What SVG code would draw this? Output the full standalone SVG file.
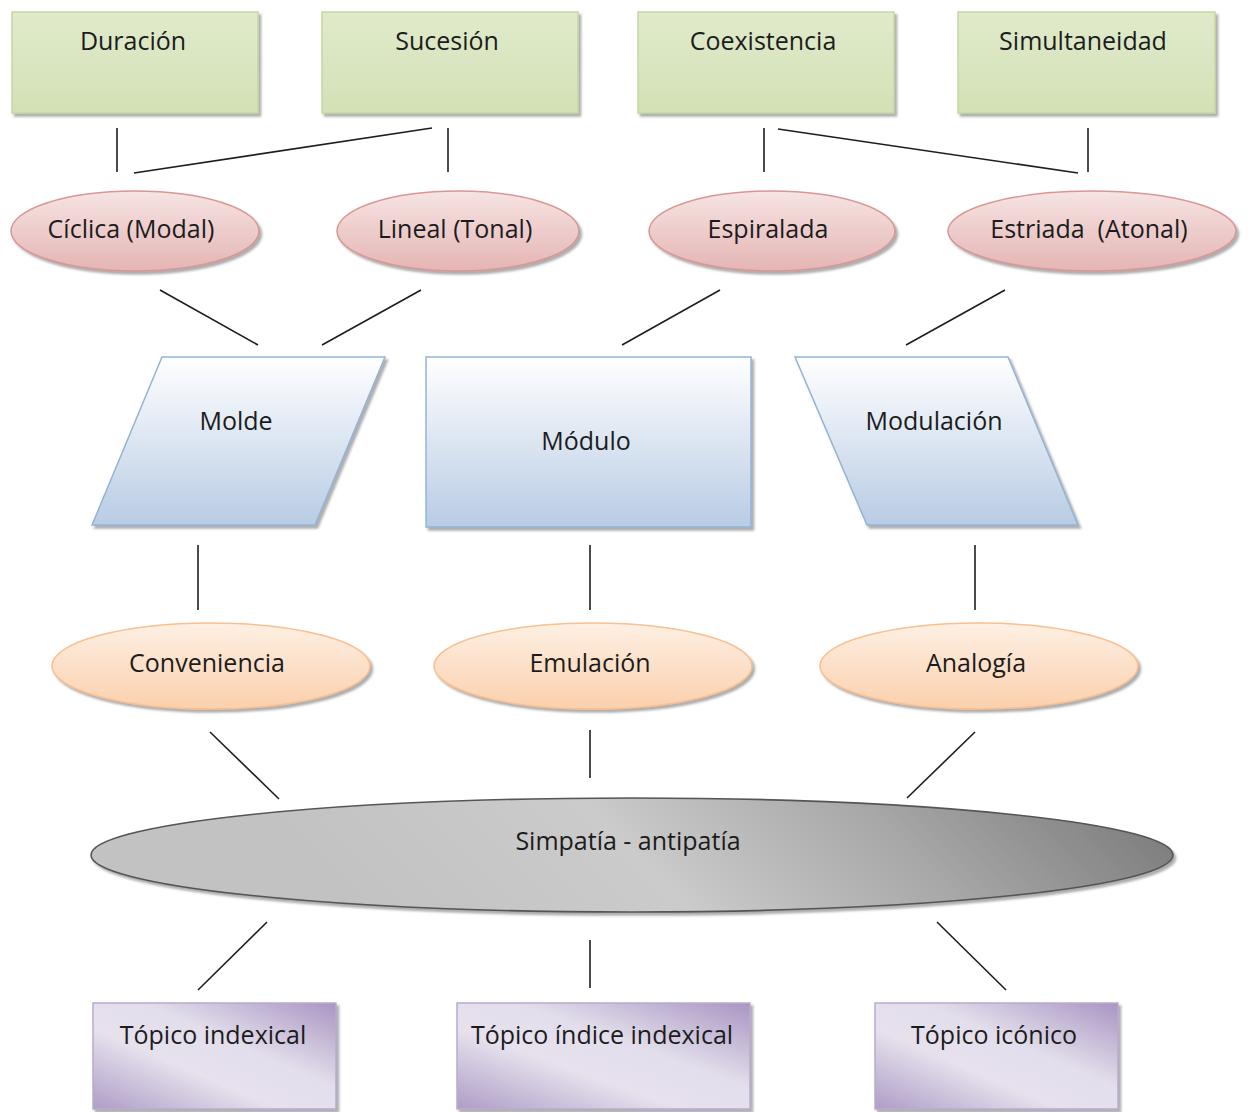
<svg xmlns="http://www.w3.org/2000/svg" width="1248" height="1112" viewBox="0 0 1248 1112">
  <defs>
    <linearGradient id="gGreen" x1="0" y1="0" x2="0" y2="1">
      <stop offset="0" stop-color="#e0eacb"/>
      <stop offset="1" stop-color="#d3e1b6"/>
    </linearGradient>
    <linearGradient id="gRed" x1="0" y1="0" x2="0" y2="1">
      <stop offset="0" stop-color="#f6e4e3"/>
      <stop offset="1" stop-color="#e4b5b4"/>
    </linearGradient>
    <linearGradient id="gBlue" x1="0" y1="0" x2="0" y2="1">
      <stop offset="0" stop-color="#ffffff"/>
      <stop offset="1" stop-color="#b8cce4"/>
    </linearGradient>
    <linearGradient id="gOrange" x1="0" y1="0" x2="0" y2="1">
      <stop offset="0" stop-color="#fef0e4"/>
      <stop offset="1" stop-color="#fbd0ad"/>
    </linearGradient>
    <!-- diagonal shading for the wide central ellipse -->
    <linearGradient id="gGray" gradientUnits="userSpaceOnUse" x1="1250" y1="700" x2="700" y2="1250">
      <stop offset="0.2" stop-color="#7e7e7e"/>
      <stop offset="0.45" stop-color="#a8a8a8"/>
      <stop offset="0.7" stop-color="#cbcbcb"/>
      <stop offset="1" stop-color="#c2c2c2"/>
    </linearGradient>
    <linearGradient id="gPurple" x1="1" y1="0" x2="0" y2="1">
      <stop offset="0" stop-color="#a995c2"/>
      <stop offset="0.4" stop-color="#e3deeb"/>
      <stop offset="0.62" stop-color="#e6e1ed"/>
      <stop offset="1" stop-color="#ae9dc5"/>
    </linearGradient>
    <filter id="shadow" x="-5%" y="-10%" width="115%" height="130%">
      <feDropShadow dx="2.5" dy="3" stdDeviation="1.2" flood-color="#6d6d6d" flood-opacity="0.55"/>
    </filter>
  </defs>
  <style>
    .lbl { font-family: "Open Sans", "Liberation Sans", sans-serif; font-size: 25px; fill: #1c1c1c; text-anchor: middle; }
    .green { fill: url(#gGreen); stroke: #c4d79f; stroke-width: 1.5; filter: url(#shadow); }
    .red { fill: url(#gRed); stroke: #d99694; stroke-width: 1.5; filter: url(#shadow); }
    .blue { fill: url(#gBlue); stroke: #95b3d7; stroke-width: 1.5; filter: url(#shadow); }
    .orange { fill: url(#gOrange); stroke: #f9bf8f; stroke-width: 1.5; filter: url(#shadow); }
    .gray { fill: url(#gGray); stroke: #555555; stroke-width: 1.6; filter: url(#shadow); }
    .purple { fill: url(#gPurple); stroke: #b9abcf; stroke-width: 1.5; filter: url(#shadow); }
    .conn line { stroke: #1e1e1e; stroke-width: 1.6; }
  </style>

  <rect width="1248" height="1112" fill="#ffffff"/>

  <!-- connectors -->
  <g id="connectors" class="conn">
    <line x1="117" y1="128" x2="117" y2="172"/>
    <line x1="134" y1="173" x2="432" y2="128"/>
    <line x1="448" y1="128" x2="448" y2="172"/>
    <line x1="764" y1="128" x2="764" y2="172"/>
    <line x1="778" y1="129" x2="1078" y2="173"/>
    <line x1="1088" y1="128" x2="1088" y2="172"/>
    <line x1="160" y1="290" x2="258" y2="345"/>
    <line x1="421" y1="290" x2="322" y2="345"/>
    <line x1="720" y1="290" x2="622" y2="345"/>
    <line x1="1005" y1="290" x2="906" y2="345"/>
    <line x1="198" y1="545" x2="198" y2="610"/>
    <line x1="590" y1="545" x2="590" y2="610"/>
    <line x1="975" y1="545" x2="975" y2="610"/>
    <line x1="210" y1="732" x2="279" y2="799"/>
    <line x1="590" y1="730" x2="590" y2="778"/>
    <line x1="975" y1="732" x2="907" y2="798"/>
    <line x1="267" y1="922" x2="198" y2="990"/>
    <line x1="590" y1="940" x2="590" y2="988"/>
    <line x1="937" y1="922" x2="1006" y2="990"/>
  </g>

  <!-- top row -->
  <g id="duracion">
    <rect class="green" x="12" y="12" width="246" height="101"/>
    <text class="lbl" x="133" y="50">Duración</text>
  </g>
  <g id="sucesion">
    <rect class="green" x="322" y="12" width="256" height="101"/>
    <text class="lbl" x="447" y="50">Sucesión</text>
  </g>
  <g id="coexistencia">
    <rect class="green" x="638" y="12" width="256" height="101"/>
    <text class="lbl" x="763" y="50">Coexistencia</text>
  </g>
  <g id="simultaneidad">
    <rect class="green" x="958" y="12" width="257" height="101"/>
    <text class="lbl" x="1083" y="50">Simultaneidad</text>
  </g>

  <!-- second row -->
  <g id="ciclica">
    <ellipse class="red" cx="135" cy="231" rx="124" ry="40"/>
    <text class="lbl" x="131" y="238">Cíclica (Modal)</text>
  </g>
  <g id="lineal">
    <ellipse class="red" cx="458" cy="231" rx="121" ry="40"/>
    <text class="lbl" x="455" y="238">Lineal (Tonal)</text>
  </g>
  <g id="espiralada">
    <ellipse class="red" cx="772" cy="231" rx="123" ry="40"/>
    <text class="lbl" x="768" y="238">Espiralada</text>
  </g>
  <g id="estriada">
    <ellipse class="red" cx="1092" cy="231" rx="144" ry="40"/>
    <text class="lbl" x="1089" y="238" xml:space="preserve">Estriada  (Atonal)</text>
  </g>

  <!-- third row -->
  <g id="molde">
    <polygon class="blue" points="162,357 385,357 315,525 92,525"/>
    <text class="lbl" x="236" y="430">Molde</text>
  </g>
  <g id="modulo">
    <rect class="blue" x="426" y="357" width="325" height="170"/>
    <text class="lbl" x="586" y="450">Módulo</text>
  </g>
  <g id="modulacion">
    <polygon class="blue" points="795,357 1008,357 1078,525 867,525"/>
    <text class="lbl" x="934" y="430">Modulación</text>
  </g>

  <!-- fourth row -->
  <g id="conveniencia">
    <ellipse class="orange" cx="211" cy="666" rx="159" ry="43"/>
    <text class="lbl" x="207" y="672">Conveniencia</text>
  </g>
  <g id="emulacion">
    <ellipse class="orange" cx="593" cy="666" rx="159" ry="43"/>
    <text class="lbl" x="590" y="672">Emulación</text>
  </g>
  <g id="analogia">
    <ellipse class="orange" cx="979" cy="666" rx="159" ry="43"/>
    <text class="lbl" x="976" y="672">Analogía</text>
  </g>

  <!-- central ellipse -->
  <g id="simpatia">
    <ellipse class="gray" cx="632" cy="855" rx="541" ry="57"/>
    <text class="lbl" x="628" y="850">Simpatía - antipatía</text>
  </g>

  <!-- bottom row -->
  <g id="topico-indexical">
    <rect class="purple" x="93" y="1003" width="243" height="106"/>
    <text class="lbl" x="213" y="1044">Tópico indexical</text>
  </g>
  <g id="topico-indice-indexical">
    <rect class="purple" x="457" y="1003" width="293" height="106"/>
    <text class="lbl" x="602" y="1044">Tópico índice indexical</text>
  </g>
  <g id="topico-iconico">
    <rect class="purple" x="875" y="1003" width="243" height="106"/>
    <text class="lbl" x="994" y="1044">Tópico icónico</text>
  </g>
</svg>
